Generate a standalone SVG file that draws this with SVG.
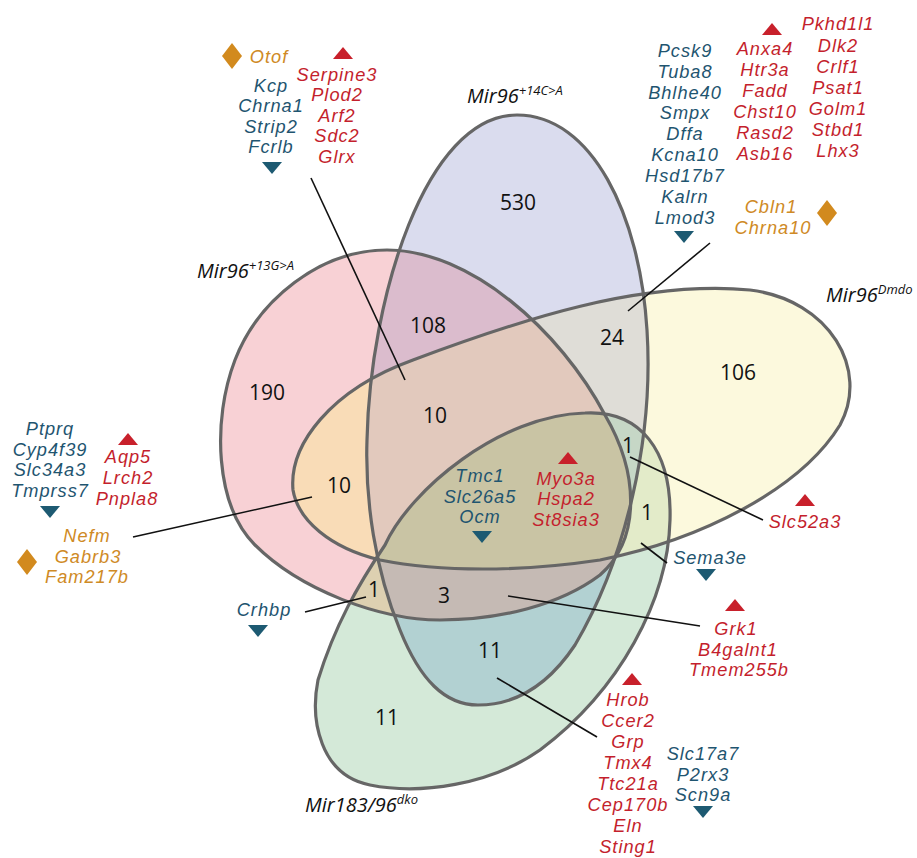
<svg xmlns="http://www.w3.org/2000/svg" xmlns:xlink="http://www.w3.org/1999/xlink" width="917" height="858" viewBox="0 0 917 858">
<style>
.num{font-family:"Open Sans","Liberation Sans",sans-serif;font-size:21px;fill:#111;text-anchor:middle}
.g{font-family:"Liberation Sans",Arial,sans-serif;font-style:italic;font-size:18.2px;letter-spacing:1px;text-anchor:middle}
.b{fill:#1f5570}.r{fill:#c41f2d}.o{fill:#cf8a25}
.set{font-family:"Open Sans","Liberation Sans",sans-serif;font-style:italic;font-size:20px;fill:#111}
.sup{font-size:13px}
.outline{fill:none;stroke:#666;stroke-width:3.2}
.conn{stroke:#111;stroke-width:1.6;fill:none}
.tr{fill:#c8202b}.tb{fill:#1d5a72}.dm{fill:#d28a1e}
</style>
<defs>
<path id="sP" d="M387,250 C470,250 560,330 605,415 C640,475 640,540 600,575 C560,605 500,620 440,620 C380,620 300,590 255,545 C215,505 212,420 235,360 C258,300 320,250 387,250 Z"/>
<path id="sU" d="M517,115 C592,115 640,215 647,330 C654,440 625,560 575,645 C545,690 510,705 478,705 C445,705 420,680 400,630 C375,570 365,500 367,440 C370,300 425,115 517,115 Z"/>
<path id="sY" d="M293,490 C289,445 330,390 413,360 C520,320 640,280 750,290 C830,300 870,370 840,425 C800,490 700,540 600,560 C520,572 440,572 380,560 C330,548 298,520 293,490 Z"/>
<path id="sG" d="M585,413 C640,410 672,450 670,520 C668,600 620,690 540,750 C490,785 420,795 370,785 C320,775 310,720 318,680 C335,625 358,585 385,545 C410,490 500,415 585,413 Z"/>
<clipPath id="cP"><use xlink:href="#sP"/></clipPath>
<clipPath id="cU"><use xlink:href="#sU"/></clipPath>
<clipPath id="cY"><use xlink:href="#sY"/></clipPath>
<clipPath id="cG"><use xlink:href="#sG"/></clipPath>
<path id="triU" d="M-10,6 L0,-6 L10,6 Z"/>
<path id="triD" d="M-10,-6 L10,-6 L0,6 Z"/>
<path id="dia" d="M0,-13 L10,0 L0,13 L-10,0 Z"/>
</defs>

<g id="regions">
<use xlink:href="#sP" fill="#f8d1d5"/>
<use xlink:href="#sU" fill="#dadcee"/>
<use xlink:href="#sY" fill="#fcf9dd"/>
<use xlink:href="#sG" fill="#d4e9d8"/>
<g clip-path="url(#cP)"><use xlink:href="#sU" fill="#dbbccd"/></g>
<g clip-path="url(#cP)"><use xlink:href="#sY" fill="#f9dcb7"/></g>
<g clip-path="url(#cP)"><use xlink:href="#sG" fill="#ddd0b1"/></g>
<g clip-path="url(#cU)"><use xlink:href="#sY" fill="#dfddd7"/></g>
<g clip-path="url(#cU)"><use xlink:href="#sG" fill="#b2d1d2"/></g>
<g clip-path="url(#cY)"><use xlink:href="#sG" fill="#e3ebc9"/></g>
<g clip-path="url(#cP)"><g clip-path="url(#cU)"><use xlink:href="#sY" fill="#e2c9bd"/></g></g>
<g clip-path="url(#cP)"><g clip-path="url(#cU)"><use xlink:href="#sG" fill="#c5bab4"/></g></g>
<g clip-path="url(#cP)"><g clip-path="url(#cY)"><use xlink:href="#sG" fill="#e0d3a8"/></g></g>
<g clip-path="url(#cU)"><g clip-path="url(#cY)"><use xlink:href="#sG" fill="#c6d7c6"/></g></g>
<g clip-path="url(#cP)"><g clip-path="url(#cU)"><g clip-path="url(#cY)"><use xlink:href="#sG" fill="#c9c4a4"/></g></g></g>
</g>

<g id="set-mir96-13GA">
<use xlink:href="#sP" class="outline"/>
<text class="set" x="197" y="278">Mir96<tspan class="sup" dy="-8">+13G&gt;A</tspan></text>
</g>
<g id="set-mir96-14CA">
<use xlink:href="#sU" class="outline"/>
<text class="set" x="467" y="103">Mir96<tspan class="sup" dy="-8">+14C&gt;A</tspan></text>
</g>
<g id="set-mir96-dmdo">
<use xlink:href="#sY" class="outline"/>
<text class="set" x="826" y="302">Mir96<tspan class="sup" dy="-8">Dmdo</tspan></text>
</g>
<g id="set-mir183-96-dko">
<use xlink:href="#sG" class="outline"/>
<text class="set" x="305" y="812">Mir183/96<tspan class="sup" dy="-8">dko</tspan></text>
</g>

<g id="counts">
<text class="num" x="518" y="210">530</text>
<text class="num" x="267" y="400">190</text>
<text class="num" x="428" y="333">108</text>
<text class="num" x="612" y="345">24</text>
<text class="num" x="738" y="380">106</text>
<text class="num" x="435" y="423">10</text>
<text class="num" x="339" y="493">10</text>
<text class="num" x="628" y="453">1</text>
<text class="num" x="647" y="520">1</text>
<text class="num" x="444" y="603">3</text>
<text class="num" x="374" y="597">1</text>
<text class="num" x="490" y="658">11</text>
<text class="num" x="387" y="725">11</text>
</g>

<g id="connectors">
<line class="conn" x1="311" y1="178" x2="405" y2="380"/>
<line class="conn" x1="710" y1="243" x2="628" y2="311"/>
<line class="conn" x1="133" y1="537" x2="312" y2="497"/>
<line class="conn" x1="630" y1="457" x2="763" y2="520"/>
<line class="conn" x1="641" y1="543" x2="667" y2="563"/>
<line class="conn" x1="508" y1="596" x2="700" y2="626"/>
<line class="conn" x1="497" y1="678" x2="597" y2="737"/>
<line class="conn" x1="305" y1="612" x2="366" y2="597"/>
</g>

<g id="genes-top-left">
<use xlink:href="#dia" class="dm" x="232" y="56"/>
<text class="g o" x="269" y="63">Otof</text>
<text class="g b"><tspan x="271" y="91.5">Kcp</tspan><tspan x="271" y="112">Chrna1</tspan><tspan x="271" y="132.5">Strip2</tspan><tspan x="271" y="153">Fcrlb</tspan></text>
<use xlink:href="#triD" class="tb" x="272" y="168"/>
<use xlink:href="#triU" class="tr" x="343" y="53"/>
<text class="g r"><tspan x="337" y="80.5">Serpine3</tspan><tspan x="337" y="101">Plod2</tspan><tspan x="337" y="121.5">Arf2</tspan><tspan x="337" y="142">Sdc2</tspan><tspan x="337" y="162.5">Glrx</tspan></text>
</g>

<g id="genes-top-right">
<text class="g b"><tspan x="685" y="56.5">Pcsk9</tspan><tspan x="685" y="77.5">Tuba8</tspan><tspan x="685" y="98.5">Bhlhe40</tspan><tspan x="685" y="119">Smpx</tspan><tspan x="685" y="140">Dffa</tspan><tspan x="685" y="161">Kcna10</tspan><tspan x="685" y="182">Hsd17b7</tspan><tspan x="685" y="203">Kalrn</tspan><tspan x="685" y="224">Lmod3</tspan></text>
<use xlink:href="#triD" class="tb" x="684" y="237"/>
<use xlink:href="#triU" class="tr" x="772" y="29"/>
<text class="g r"><tspan x="765" y="55">Anxa4</tspan><tspan x="765" y="76">Htr3a</tspan><tspan x="765" y="97">Fadd</tspan><tspan x="765" y="118">Chst10</tspan><tspan x="765" y="139">Rasd2</tspan><tspan x="765" y="160">Asb16</tspan></text>
<text class="g r"><tspan x="838" y="30">Pkhd1l1</tspan><tspan x="838" y="51.5">Dlk2</tspan><tspan x="838" y="72.5">Crlf1</tspan><tspan x="838" y="93.5">Psat1</tspan><tspan x="838" y="114.5">Golm1</tspan><tspan x="838" y="135.5">Stbd1</tspan><tspan x="838" y="156.5">Lhx3</tspan></text>
<text class="g o"><tspan x="771" y="212.5">Cbln1</tspan><tspan x="773" y="233.5">Chrna10</tspan></text>
<use xlink:href="#dia" class="dm" x="827" y="213"/>
</g>

<g id="genes-left">
<text class="g b"><tspan x="50" y="435">Ptprq</tspan><tspan x="50" y="455.5">Cyp4f39</tspan><tspan x="50" y="476">Slc34a3</tspan><tspan x="50" y="496.5">Tmprss7</tspan></text>
<use xlink:href="#triD" class="tb" x="50" y="512"/>
<use xlink:href="#triU" class="tr" x="128" y="439"/>
<text class="g r"><tspan x="128" y="463">Aqp5</tspan><tspan x="128" y="484">Lrch2</tspan><tspan x="127" y="505">Pnpla8</tspan></text>
<text class="g o"><tspan x="87" y="542">Nefm</tspan><tspan x="88" y="562.5">Gabrb3</tspan><tspan x="87" y="583">Fam217b</tspan></text>
<use xlink:href="#dia" class="dm" x="27" y="562"/>
</g>

<g id="genes-center">
<text class="g b"><tspan x="480" y="482">Tmc1</tspan><tspan x="480" y="502.5">Slc26a5</tspan><tspan x="480" y="523">Ocm</tspan></text>
<use xlink:href="#triD" class="tb" x="482" y="537"/>
<use xlink:href="#triU" class="tr" x="568" y="458"/>
<text class="g r"><tspan x="566" y="484.5">Myo3a</tspan><tspan x="566" y="505">Hspa2</tspan><tspan x="566" y="525.5">St8sia3</tspan></text>
</g>

<g id="genes-slc52a3">
<use xlink:href="#triU" class="tr" x="805" y="500"/>
<text class="g r" x="805" y="528">Slc52a3</text>
</g>

<g id="genes-sema3e">
<text class="g b" x="710" y="564">Sema3e</text>
<use xlink:href="#triD" class="tb" x="706" y="575"/>
</g>

<g id="genes-grk1">
<use xlink:href="#triU" class="tr" x="735" y="605"/>
<text class="g r"><tspan x="736" y="635">Grk1</tspan><tspan x="738" y="655.5">B4galnt1</tspan><tspan x="739" y="676">Tmem255b</tspan></text>
</g>

<g id="genes-hrob">
<use xlink:href="#triU" class="tr" x="632" y="679"/>
<text class="g r"><tspan x="628" y="706">Hrob</tspan><tspan x="628" y="727">Ccer2</tspan><tspan x="628" y="747.5">Grp</tspan><tspan x="628" y="768.5">Tmx4</tspan><tspan x="628" y="789.5">Ttc21a</tspan><tspan x="628" y="810.5">Cep170b</tspan><tspan x="628" y="831.5">Eln</tspan><tspan x="628" y="852.5">Sting1</tspan></text>
<text class="g b"><tspan x="703" y="760">Slc17a7</tspan><tspan x="703" y="780.5">P2rx3</tspan><tspan x="703" y="801">Scn9a</tspan></text>
<use xlink:href="#triD" class="tb" x="703" y="812"/>
</g>

<g id="genes-crhbp">
<text class="g b" x="264" y="616">Crhbp</text>
<use xlink:href="#triD" class="tb" x="258" y="631"/>
</g>
</svg>
